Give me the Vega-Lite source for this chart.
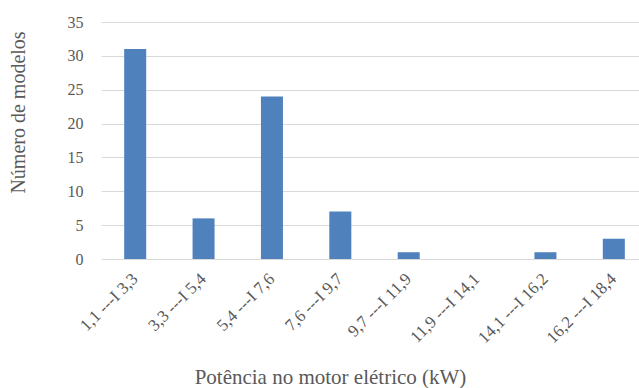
{
  "$schema": "https://vega.github.io/schema/vega-lite/v6.json",
  "width": 547,
  "height": 237,
  "autosize": {"type": "none"},
  "padding": {"left": 101, "top": 22, "right": 0, "bottom": 129},
  "background": "white",
  "config": {
    "view": {"stroke": null},
    "font": "Liberation Serif, Times New Roman, serif",
    "axis": {"labelFont": "Liberation Serif, Times New Roman, serif", "titleFont": "Liberation Serif, Times New Roman, serif"}
  },
  "data": {
    "values": [
      {"faixa": "1,1 ---I 3,3", "n": 31},
      {"faixa": "3,3 ---I 5,4", "n": 6},
      {"faixa": "5,4 ---I 7,6", "n": 24},
      {"faixa": "7,6 ---I 9,7", "n": 7},
      {"faixa": "9,7 ---I 11,9", "n": 1},
      {"faixa": "11,9 ---I 14,1", "n": 0},
      {"faixa": "14,1 ---I 16,2", "n": 1},
      {"faixa": "16,2 ---I 18,4", "n": 3}
    ]
  },
  "mark": {"type": "bar", "color": "#4f81bd"},
  "encoding": {
    "x": {
      "field": "faixa",
      "type": "nominal",
      "sort": null,
      "scale": {"paddingInner": 0.678, "paddingOuter": 0.339},
      "axis": {
        "title": "Potência no motor elétrico (kW)",
        "titleFontSize": 21,
        "titleFontWeight": "normal",
        "titleColor": "#595959",
        "titleX": 229,
        "titleY": 107,
        "labelAngle": -45,
        "labelAlign": "right",
        "labelBaseline": "middle",
        "labelFontSize": 17,
        "labelColor": "#595959",
        "labelPadding": 17,
        "ticks": false,
        "domain": false,
        "grid": false
      }
    },
    "y": {
      "field": "n",
      "type": "quantitative",
      "scale": {"domain": [0, 35]},
      "axis": {
        "title": "Número de modelos",
        "titleFontSize": 20,
        "titleFontWeight": "normal",
        "titleColor": "#595959",
        "titleX": -73,
        "titleY": 90,
        "values": [0, 5, 10, 15, 20, 25, 30, 35],
        "labelFontSize": 16,
        "labelColor": "#595959",
        "labelPadding": 18,
        "ticks": false,
        "domain": false,
        "grid": true,
        "gridColor": "#d9d9d9",
        "gridWidth": 1
      }
    }
  }
}
